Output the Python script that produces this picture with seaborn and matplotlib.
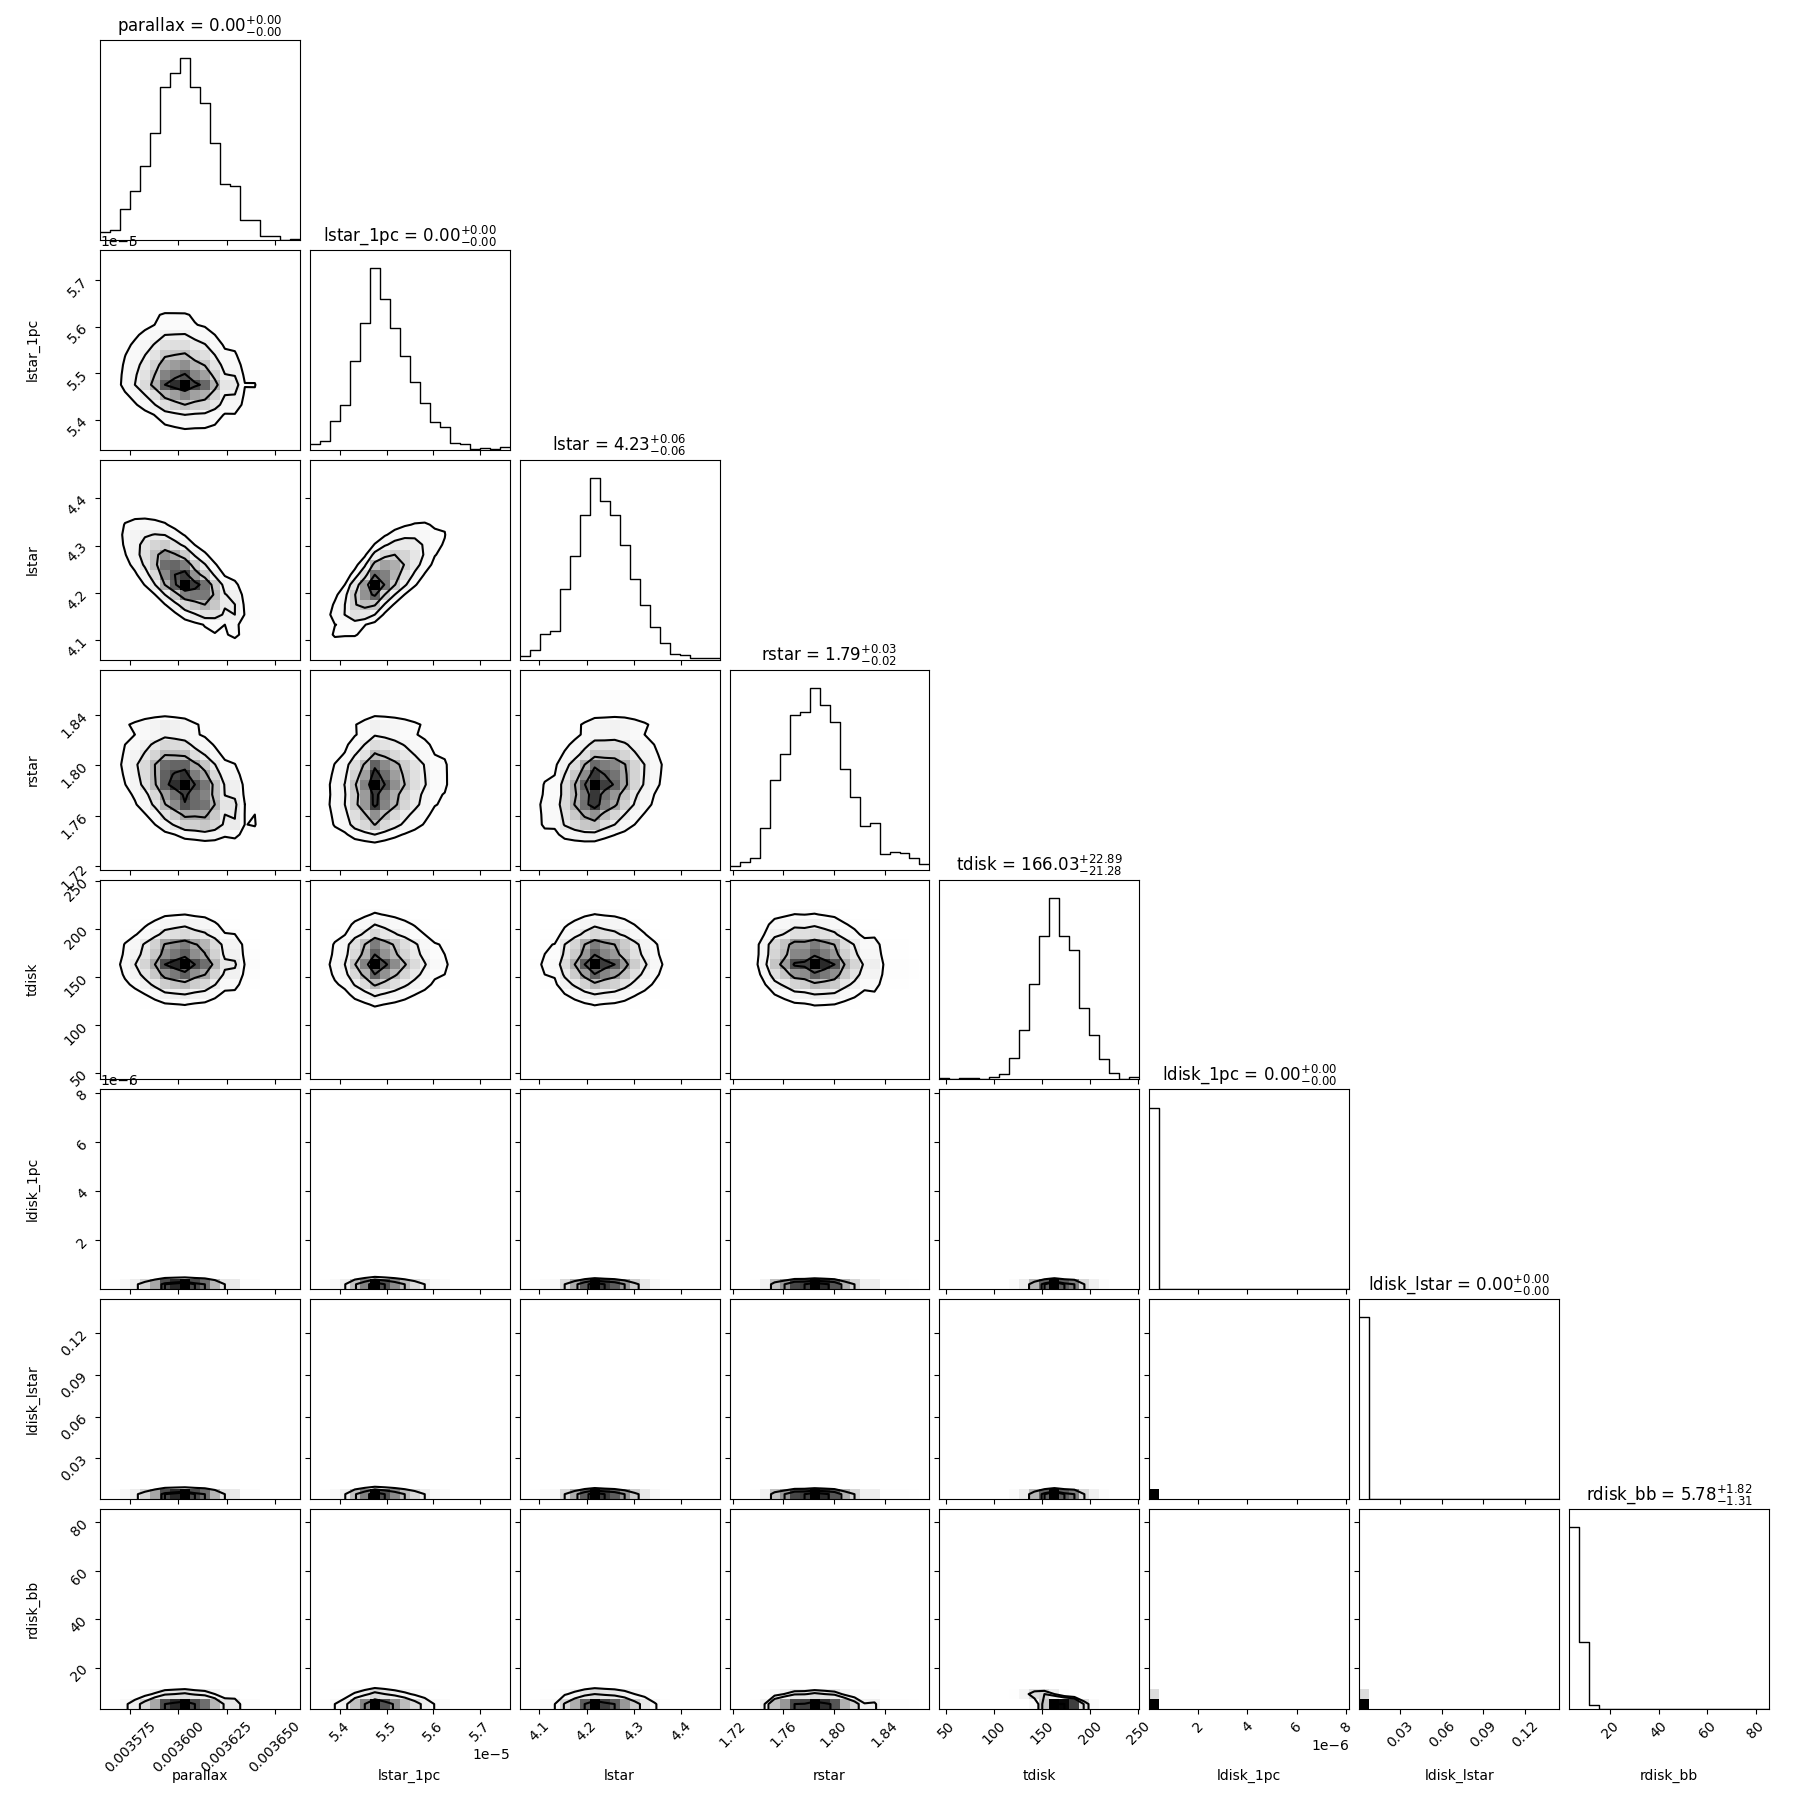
import numpy as np
import matplotlib
matplotlib.use("Agg")
import matplotlib.pyplot as plt
from matplotlib.colors import ListedColormap
from matplotlib.ticker import MaxNLocator
from statistics import NormalDist
import seaborn as sns

labels = ["parallax", "lstar_1pc", "lstar", "rstar", "tdisk",
          "ldisk_1pc", "ldisk_lstar", "rdisk_bb"]
range_lo = [0.0035594, 5.335e-5, 4.0584, 1.7176, 43.06, 1.0e-8, 0.0006, 3.0]
range_hi = [0.0036629, 5.765e-5, 4.4819, 1.8755, 251.4, 8.14e-6, 0.1446, 85.45]

# title numbers: median, -err, +err
medians = ["0.00", "0.00", "4.23", "1.79", "166.03", "0.00", "0.00", "5.78"]
err_minus = ["0.00", "0.00", "0.06", "0.02", "21.28", "0.00", "0.00", "1.31"]
err_plus = ["0.00", "0.00", "0.06", "0.03", "22.89", "0.00", "0.00", "1.82"]

# 20-bin marginal histograms (relative counts)
hist_parallax = [44, 57, 169, 268, 408, 588, 841, 920, 1000, 841,
                 753, 533, 309, 296, 108, 108, 20, 20, 0, 6]
hist_lstar_1pc = [31, 48, 158, 246, 489, 698, 1000, 828, 668, 514,
                  375, 257, 152, 127, 37, 31, 4, 9, 4, 17]
hist_lstar = [20, 55, 141, 160, 386, 569, 797, 1000, 874, 797,
              632, 444, 299, 178, 92, 31, 26, 7, 11, 11]
hist_rstar = [17, 39, 62, 230, 494, 637, 852, 869, 1000, 907,
              814, 555, 399, 241, 257, 86, 97, 92, 61, 31]
hist_tdisk = [7, 4, 9, 9, 4, 11, 31, 119, 274, 527,
              788, 1000, 791, 714, 391, 246, 114, 37, 4, 11]
hist_ldisk_1pc = [1000, 0, 0, 0, 0, 0, 0, 0, 0, 0,
                  0, 0, 0, 0, 0, 0, 0, 0, 0, 1]
hist_ldisk_lstar = [1000, 0, 0, 0, 0, 0, 0, 0, 0, 0,
                    0, 0, 0, 0, 0, 0, 0, 0, 0, 1]
hist_rdisk_bb = [1000, 367, 22, 2, 0, 0, 0, 0, 0, 0,
                 0, 0, 0, 0, 0, 0, 0, 0, 0, 1]
hists = [hist_parallax, hist_lstar_1pc, hist_lstar, hist_rstar, hist_tdisk,
         hist_ldisk_1pc, hist_ldisk_lstar, hist_rdisk_bb]

# correlations estimated from the tilt of the 2d panels (others ~0)
correlations = {(0, 1): -0.15, (0, 2): -0.7, (0, 3): -0.4, (0, 4): 0.0,
                (1, 2): 0.75, (1, 3): 0.15, (1, 4): 0.0,
                (2, 3): 0.3, (2, 4): 0.0, (3, 4): -0.1,
                (4, 7): -0.75}

K = len(labels)
NBINS = 20
nd = NormalDist()

# corner-like density colours: gray = 1 - f**2
f = np.linspace(0, 1, 256)
g = 1 - f ** 2
density_cmap = ListedColormap(np.c_[g, g, g])
levels = 1.0 - np.exp(-0.5 * np.arange(0.5, 2.1, 0.5) ** 2)


def normal_scores(h):
    h = np.asarray(h, float)
    u = (np.cumsum(h) - 0.5 * h) / h.sum()
    return np.array([nd.inv_cdf(min(max(v, 1e-6), 1 - 1e-6)) for v in u])


def joint_hist(ix, iy):
    # gaussian copula joining the two marginal histograms
    hx = np.asarray(hists[ix], float)
    hy = np.asarray(hists[iy], float)
    rho = correlations.get((min(ix, iy), max(ix, iy)), 0.0)
    A, B = np.meshgrid(normal_scores(hx), normal_scores(hy), indexing="ij")
    c = np.exp(-(rho ** 2 * (A ** 2 + B ** 2) - 2 * rho * A * B)
               / (2 * (1 - rho ** 2))) / np.sqrt(1 - rho ** 2)
    return np.outer(hx, hy) * c


def contour_levels(H):
    Hflat = np.sort(H.flatten())[::-1]
    sm = np.cumsum(Hflat)
    sm /= sm[-1]
    V = np.empty(len(levels))
    for k, v0 in enumerate(levels):
        sel = Hflat[sm <= v0]
        V[k] = sel[-1] if len(sel) else Hflat[0]
    V.sort()
    m = np.diff(V) == 0
    while np.any(m):
        V[np.where(m)[0][0]] *= 1.0 - 1e-4
        m = np.diff(V) == 0
    V.sort()
    return V


def padded(H, c1, c2):
    H2 = H.min() + np.zeros((H.shape[0] + 4, H.shape[1] + 4))
    H2[2:-2, 2:-2] = H
    H2[2:-2, 1] = H[:, 0]
    H2[2:-2, -2] = H[:, -1]
    H2[1, 2:-2] = H[0]
    H2[-2, 2:-2] = H[-1]
    H2[1, 1] = H[0, 0]
    H2[1, -2] = H[0, -1]
    H2[-2, 1] = H[-1, 0]
    H2[-2, -2] = H[-1, -1]
    X2 = np.concatenate([c1[0] + np.array([-2, -1]) * np.diff(c1[:2]), c1,
                         c1[-1] + np.array([1, 2]) * np.diff(c1[-2:])])
    Y2 = np.concatenate([c2[0] + np.array([-2, -1]) * np.diff(c2[:2]), c2,
                         c2[-1] + np.array([1, 2]) * np.diff(c2[-2:])])
    return X2, Y2, H2


def centers(i):
    e = np.linspace(range_lo[i], range_hi[i], NBINS + 1)
    return 0.5 * (e[1:] + e[:-1])


dim = 18.1
fig, axes = plt.subplots(K, K, figsize=(18.09, 18.09), dpi=100)
fig.subplots_adjust(left=1.0 / dim, bottom=1.0 / dim, right=17.7 / dim,
                    top=17.7 / dim, wspace=0.05, hspace=0.05)

for row in range(K):
    for col in range(K):
        ax = axes[row, col]
        if col > row:
            ax.set_frame_on(False)
            ax.set_xticks([])
            ax.set_yticks([])
            continue

        if col == row:
            # 1d marginal
            sns.histplot(x=centers(col), weights=hists[col], bins=NBINS,
                         binrange=(range_lo[col], range_hi[col]),
                         element="step", fill=False, color="k",
                         linewidth=1.0, ax=ax)
            ax.set_xlim(range_lo[col], range_hi[col])
            ax.set_ylim(0, 1.1 * max(hists[col]))
            ax.set_yticks([])
            ax.set_ylabel("")
            ax.set_title("{0} = ${1}_{{-{2}}}^{{+{3}}}$".format(
                labels[col], medians[col], err_minus[col], err_plus[col]),
                fontsize=12)
        else:
            cx, cy = centers(col), centers(row)
            H = joint_hist(col, row)
            xx, yy = np.meshgrid(cx, cy, indexing="ij")
            sns.histplot(x=xx.ravel(), y=yy.ravel(), weights=H.ravel(),
                         bins=NBINS,
                         binrange=((range_lo[col], range_hi[col]),
                                   (range_lo[row], range_hi[row])),
                         cmap=density_cmap, ax=ax)
            V = contour_levels(H)
            X2, Y2, H2 = padded(H, cx, cy)
            ax.contour(X2, Y2, H2.T, V, colors="k", linewidths=1.5)
            ax.set_xlim(range_lo[col], range_hi[col])
            ax.set_ylim(range_lo[row], range_hi[row])
            ax.yaxis.set_major_locator(MaxNLocator(5, prune="lower"))
            if col == 0:
                ax.set_ylabel(labels[row])
                ax.yaxis.set_label_coords(-0.3, 0.5)
                ax.tick_params(axis="y", labelrotation=45)
            else:
                ax.set_ylabel("")
                ax.tick_params(labelleft=False)
                ax.yaxis.offsetText.set_visible(False)

        ax.xaxis.set_major_locator(MaxNLocator(5, prune="lower"))
        if row == K - 1:
            ax.set_xlabel(labels[col])
            ax.xaxis.set_label_coords(0.5, -0.3)
            ax.tick_params(axis="x", labelrotation=45)
        else:
            ax.set_xlabel("")
            ax.tick_params(labelbottom=False)
            ax.xaxis.offsetText.set_visible(False)

fig.savefig("out.png", dpi=100)
